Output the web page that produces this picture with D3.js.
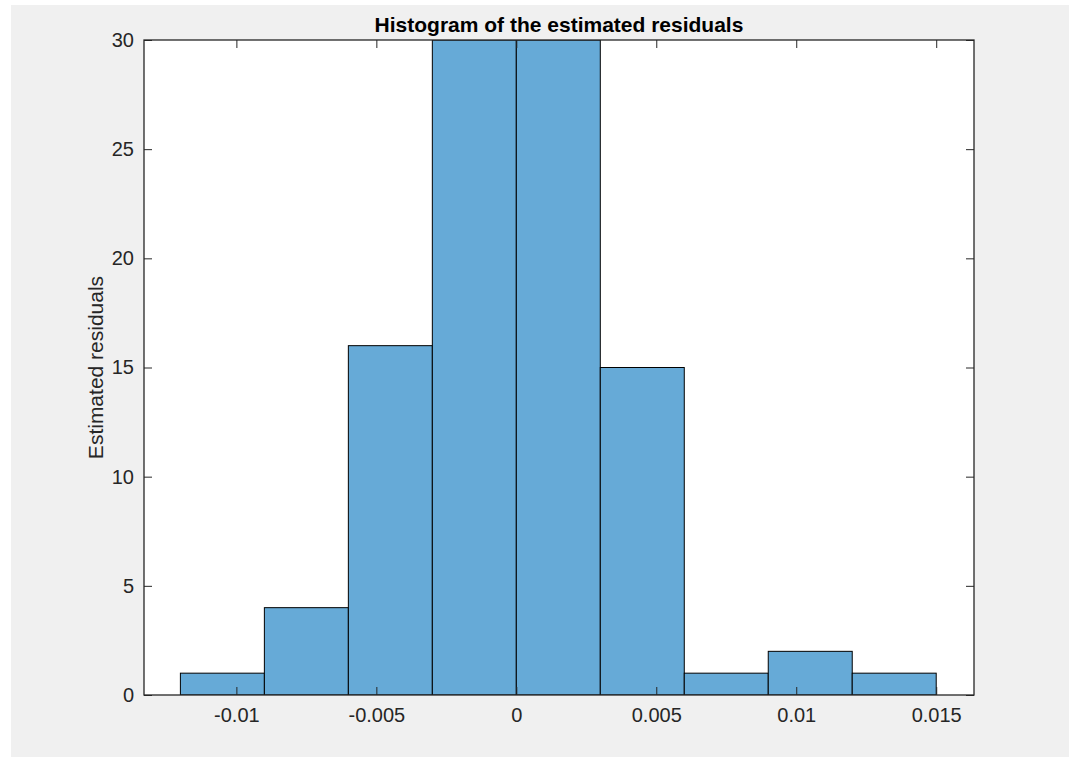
<!DOCTYPE html>
<html>
<head>
<meta charset="utf-8">
<script src="https://cdn.jsdelivr.net/npm/d3@7"></script>
<style>
  html, body { margin: 0; padding: 0; background: #ffffff; }
  svg { display: block; }
  text { font-family: "Liberation Sans", Arial, Helvetica, sans-serif; fill: #262626; }
</style>
</head>
<body>
<script>
// ---- data ----
const binEdges = [-0.012, -0.009, -0.006, -0.003, 0, 0.003, 0.006, 0.009, 0.012, 0.015];
const counts = [1, 4, 16, 30, 30, 15, 1, 2, 1];
const xTicks = [-0.01, -0.005, 0, 0.005, 0.01, 0.015];
const xTickLabels = ["-0.01", "-0.005", "0", "0.005", "0.01", "0.015"];
const yTicks = [0, 5, 10, 15, 20, 25, 30];
const yTickLabels = ["0", "5", "10", "15", "20", "25", "30"];
const titleText = "Histogram of the estimated residuals";
const yLabelText = "Estimated residuals";

(function () {
const W = 1069, H = 758;
const svg = d3.select("body").append("svg").attr("width", W).attr("height", H);

svg.append("rect").attr("x", 11).attr("y", 5).attr("width", W - 11).attr("height", 752).attr("fill", "#f0f0f0");

const pL = 144, pR = 974, pT = 40, pB = 695;
const x = d3.scaleLinear().domain([-0.0133, 0.01635]).range([pL, pR]);
const y = d3.scaleLinear().domain([0, 30]).range([pB, pT]);

svg.append("rect").attr("x", pL).attr("y", pT).attr("width", pR - pL).attr("height", pB - pT).attr("fill", "#ffffff");

const bins = counts.map((c, i) => ({ x0: binEdges[i], x1: binEdges[i + 1], c }));
svg.append("clipPath").attr("id", "pc").append("rect")
  .attr("x", pL).attr("y", pT).attr("width", pR - pL).attr("height", pB - pT);

svg.append("g").attr("clip-path", "url(#pc)")
  .selectAll("rect").data(bins).join("rect")
  .attr("x", d => x(d.x0)).attr("y", d => y(d.c))
  .attr("width", d => x(d.x1) - x(d.x0)).attr("height", d => y(0) - y(d.c))
  .attr("fill", "#66aad7").attr("stroke", "#000000").attr("stroke-width", 1);

const tickLen = 8;
const axisColor = "#262626";
const fs = 20;
const gx = svg.append("g").attr("transform", `translate(0,${pB})`)
  .call(d3.axisBottom(x).tickValues(xTicks).tickFormat((d, i) => xTickLabels[i]).tickSize(-tickLen).tickPadding(13));
gx.select(".domain").remove();
gx.selectAll("line").attr("stroke", axisColor);
gx.selectAll("text").attr("font-size", fs).attr("fill", axisColor).style("font-family", "'Liberation Sans', Arial, sans-serif");

const gxt = svg.append("g").attr("transform", `translate(0,${pT})`)
  .call(d3.axisTop(x).tickValues(xTicks).tickFormat("").tickSize(-tickLen));
gxt.select(".domain").remove();
gxt.selectAll("line").attr("stroke", axisColor);

const gy = svg.append("g").attr("transform", `translate(${pL},0)`)
  .call(d3.axisLeft(y).tickValues(yTicks).tickFormat((d, i) => yTickLabels[i]).tickSize(-tickLen).tickPadding(10));
gy.select(".domain").remove();
gy.selectAll("line").attr("stroke", axisColor);
gy.selectAll("text").attr("font-size", fs).attr("fill", axisColor).style("font-family", "'Liberation Sans', Arial, sans-serif");

const gyr = svg.append("g").attr("transform", `translate(${pR},0)`)
  .call(d3.axisRight(y).tickValues(yTicks).tickFormat("").tickSize(-tickLen));
gyr.select(".domain").remove();
gyr.selectAll("line").attr("stroke", axisColor);

svg.append("rect").attr("x", pL).attr("y", pT).attr("width", pR - pL).attr("height", pB - pT)
  .attr("fill", "none").attr("stroke", axisColor).attr("stroke-width", 1.3);

svg.append("text").attr("x", (pL + pR) / 2).attr("y", 32).attr("text-anchor", "middle")
  .attr("font-size", 21).attr("font-weight", "bold").style("fill", "#000").text(titleText);

svg.append("text").attr("transform", `translate(103,${(pT + pB) / 2}) rotate(-90)`)
  .attr("text-anchor", "middle").attr("font-size", 21).text(yLabelText);
})();
</script>
</body>
</html>
